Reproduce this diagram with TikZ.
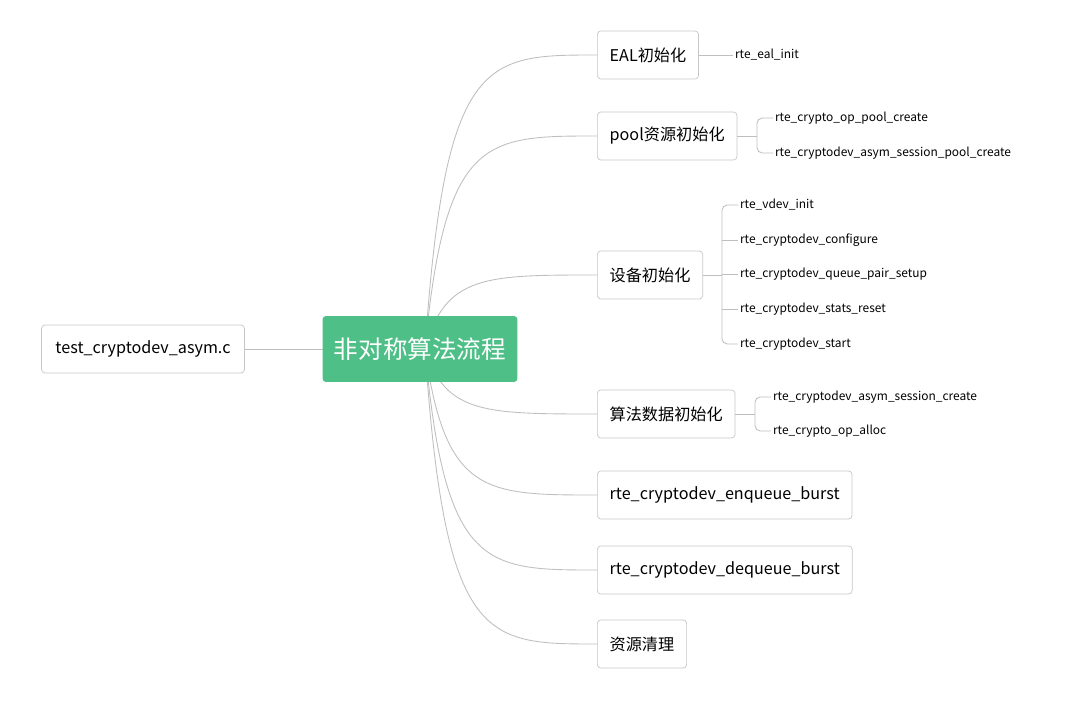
\documentclass[tikz,border=0pt]{standalone}
\usepackage{fontspec}
\setmainfont{Noto Sans CJK SC}
\usetikzlibrary{positioning,calc}
\definecolor{mintgreen}{HTML}{4DBF87}
\tikzset{
  topic/.style={draw=gray!45,rounded corners=2pt,minimum height=0.96cm,inner xsep=7pt,font=\fontsize{9.2}{11}\selectfont,anchor=west},
  leaf/.style={font=\fontsize{6.8}{8}\selectfont,anchor=west,inner sep=1pt},
  branch/.style={gray!50,line width=0.5pt},
}
\begin{document}
\begin{tikzpicture}[x=0.02cm,y=-0.02cm]
	\useasboundingbox (0,0) rectangle (1080,706);
	% main topics
	\node[topic] (eal) at (597,55) {EAL初始化};
	\node[topic] (pool) at (597,136) {pool资源初始化};
	\node[topic] (dev) at (597,275) {设备初始化};
	\node[topic] (algo) at (597,414) {算法数据初始化};
	\node[topic] (enq) at (597,495) {rte\_cryptodev\_enqueue\_burst};
	\node[topic] (deq) at (597,570) {rte\_cryptodev\_dequeue\_burst};
	\node[topic] (clean) at (597,644) {资源清理};
	\node[topic,anchor=center,minimum width=4.06cm] (src) at (143,349) {test\_cryptodev\_asym.c};
	\coordinate (root) at (425,349);
	% curves from the root
	\foreach \n in {eal,pool,dev,algo,enq,deq,clean}
		\draw[branch] (root) .. controls ($(root |- \n.west)+(20,0)$) and ($(root |- \n.west)+(60,0)$) .. (\n.west);
	\draw[branch] (src) -- (root);
	\node[fill=mintgreen,text=white,rounded corners=2pt,minimum width=3.9cm,minimum height=1.32cm,font=\fontsize{14}{16}\selectfont] (c) at (420,349) {非对称算法流程};
	% leaves
	\node[leaf] (l1) at (733,55) {rte\_eal\_init};
	\draw[branch] (eal.east) -- (l1.west);
	\node[leaf] (p1) at (773,118) {rte\_crypto\_op\_pool\_create};
	\node[leaf] (p2) at (773,153) {rte\_cryptodev\_asym\_session\_pool\_create};
	\draw[branch] (pool.east) -- (757,136);
	\draw[branch,rounded corners=3pt] (p1.west) -- (757,118) -- (757,153) -- (p2.west);
	\node[leaf] (d1) at (738,205) {rte\_vdev\_init};
	\node[leaf] (d2) at (738,240) {rte\_cryptodev\_configure};
	\node[leaf] (d3) at (738,274) {rte\_cryptodev\_queue\_pair\_setup};
	\node[leaf] (d4) at (738,309) {rte\_cryptodev\_stats\_reset};
	\node[leaf] (d5) at (738,344) {rte\_cryptodev\_start};
	\draw[branch] (dev.east) -- (722,275);
	\draw[branch,rounded corners=3pt] (d1.west) -- (722,205) -- (722,344) -- (d5.west);
	\foreach \n in {d2,d3,d4}
		\draw[branch] (722,0 |- \n.west) -- (\n.west);
	\node[leaf] (a1) at (771,397) {rte\_cryptodev\_asym\_session\_create};
	\node[leaf] (a2) at (771,431) {rte\_crypto\_op\_alloc};
	\draw[branch] (algo.east) -- (755,414);
	\draw[branch,rounded corners=3pt] (a1.west) -- (755,397) -- (755,431) -- (a2.west);
\end{tikzpicture}
\end{document}
